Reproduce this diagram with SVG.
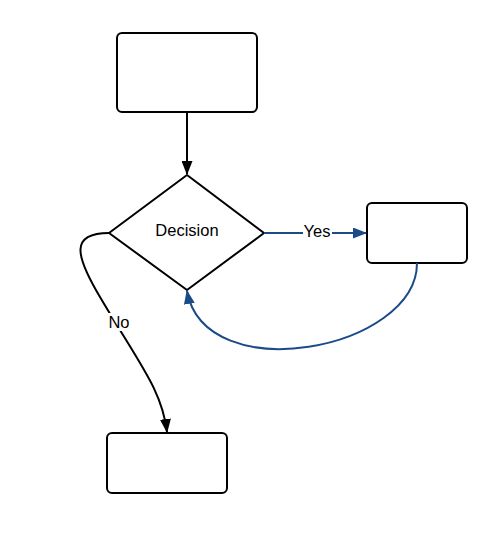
<svg xmlns="http://www.w3.org/2000/svg" width="503" height="537" viewBox="0 0 503 537">
<style>
.node{fill:#fff;stroke:#000;stroke-width:2}
.edge{fill:none;stroke-width:2}
.k{stroke:#000}
.b{stroke:#1b4b87}
.lbl{font-family:"Liberation Sans",Arial,sans-serif;font-size:16.5px;fill:#000}
.bg{fill:#fff}
</style>
<defs>
<marker id="ak" markerWidth="14" markerHeight="11" refX="13" refY="5.5" orient="auto" markerUnits="userSpaceOnUse" viewBox="0 0 14 11">
<path d="M0,0 L14,5.5 L0,11 Z" fill="#000"/>
</marker>
<marker id="ab" markerWidth="14" markerHeight="11" refX="13" refY="5.5" orient="auto" markerUnits="userSpaceOnUse" viewBox="0 0 14 11">
<path d="M0,0 L14,5.5 L0,11 Z" fill="#1b4b87"/>
</marker>
</defs>
<rect width="503" height="537" fill="#fff"/>
<g id="start"><rect class="node" x="117" y="33" width="140" height="79" rx="5"/></g>
<g id="decision">
<path class="node" stroke-linejoin="round" d="M187,175 L264,233 L187,290 L109,233 Z"/>
<text class="lbl" x="187" y="236" text-anchor="middle">Decision</text>
</g>
<g id="yesbox"><rect class="node" x="367" y="203" width="100" height="60" rx="5"/></g>
<g id="nobox"><rect class="node" x="107" y="433" width="120" height="60" rx="5"/></g>
<g id="connectors">
<path class="edge k" d="M187,112 L187,174" marker-end="url(#ak)"/>
<path class="edge b" d="M264,233 L366,233" marker-end="url(#ab)"/>
<path class="edge b" d="M417,263 C417,350 205,390 187,291" marker-end="url(#ab)"/>
<path class="edge k" d="M109,233 C70,233 75,255 100,297 C140,365 162,390 167,432" marker-end="url(#ak)"/>
<rect class="bg" x="303" y="222" width="29" height="18"/>
<text class="lbl" x="317" y="237" text-anchor="middle">Yes</text>
<rect class="bg" x="108" y="313" width="23" height="18"/>
<text class="lbl" x="119" y="328" text-anchor="middle">No</text>
</g>
</svg>
